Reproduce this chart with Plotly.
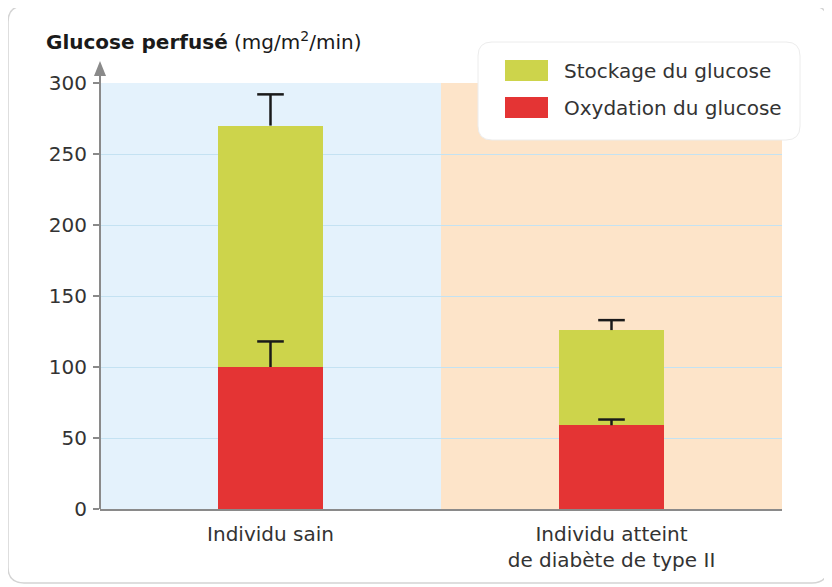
import plotly.graph_objects as go

categories = ["Individu sain", "Individu atteint<br>de diabète de type II"]
oxydation = [100, 59]
oxydation_err = [18, 4]
stockage = [170, 67]
stockage_err = [22, 7]
y_ticks = [0, 50, 100, 150, 200, 250, 300]

GREEN = "#cdd44b"
RED = "#e43434"
FONT = "DejaVu Sans"
TXT = "#333333"
AXC = "#8a8a8a"

OFF = 8  # page offset of the figure in the browser
# plot area in screen pixels
L, R, T, B = 100, 782, 83, 509
W, H = R - L, B - T


def px(x):
    return (x - L) / W


def py(y):
    return (B - y) / H


def rrect(x0, y0, x1, y1, r):
    rx = r / W
    ry = r / H
    X0, X1 = px(x0), px(x1)
    Y0, Y1 = py(y1), py(y0)
    return (f"M {X0+rx},{Y0} L {X1-rx},{Y0} Q {X1},{Y0} {X1},{Y0+ry} "
            f"L {X1},{Y1-ry} Q {X1},{Y1} {X1-rx},{Y1} L {X0+rx},{Y1} "
            f"Q {X0},{Y1} {X0},{Y1-ry} L {X0},{Y0+ry} Q {X0},{Y0} {X0+rx},{Y0} Z")


xs = [0, 1]
tot_ox = oxydation
tot_st = [a + b for a, b in zip(oxydation, stockage)]

fig = go.Figure()
fig.add_trace(go.Bar(x=xs, y=oxydation, marker_color=RED, marker_line_width=0, width=0.31,
                     name="Oxydation du glucose", showlegend=False))
fig.add_trace(go.Bar(x=xs, y=stockage, marker_color=GREEN, marker_line_width=0, width=0.31,
                     name="Stockage du glucose", showlegend=False))

# upper-only error bars (stem + cap) computed from the data
for tops, errs in [(tot_ox, oxydation_err), (tot_st, stockage_err)]:
    sx, sy = [], []
    for x, t, e in zip(xs, tops, errs):
        sx += [x, x, None]
        sy += [t, t + e, None]
    fig.add_trace(go.Scatter(x=sx, y=sy, mode="lines", line=dict(color="#1a1a1a", width=2.5),
                             hoverinfo="skip", showlegend=False))
    fig.add_trace(go.Scatter(x=xs, y=[t + e for t, e in zip(tops, errs)], mode="markers",
                             marker=dict(symbol="line-ew", size=19,
                                         line=dict(color="#1a1a1a", width=2.5)),
                             hoverinfo="skip", showlegend=False))

shapes = [
    dict(type="rect", xref="x", yref="y", x0=-0.5, x1=0.5, y0=0, y1=300,
         fillcolor="#e4f2fc", line_width=0, layer="below"),
    dict(type="rect", xref="x", yref="y", x0=0.5, x1=1.5, y0=0, y1=300,
         fillcolor="#fde4c9", line_width=0, layer="below"),
    dict(type="path", xref="paper", yref="paper", path=rrect(8, 6, 828, 583, 16),
         line=dict(color="#d4d4d4", width=1.5), fillcolor="rgba(0,0,0,0)", layer="below"),
    # y axis line with arrow head
    dict(type="line", xref="paper", yref="paper", x0=0, x1=0, y0=0, y1=py(72),
         line=dict(color=AXC, width=2), layer="above"),
    dict(type="path", xref="paper", yref="paper",
         path=f"M {px(L-6)},{py(76)} L {px(L)},{py(61)} L {px(L+6)},{py(76)} Z",
         fillcolor=AXC, line_width=0, layer="above"),
    # legend box
    dict(type="path", xref="paper", yref="paper", path=rrect(478, 42, 800, 140, 14),
         line=dict(color="#ececec", width=1), fillcolor="white", layer="above"),
    dict(type="rect", xref="paper", yref="paper", x0=px(505), x1=px(548), y0=py(81), y1=py(60),
         fillcolor=GREEN, line_width=0, layer="above"),
    dict(type="rect", xref="paper", yref="paper", x0=px(505), x1=px(548), y0=py(118), y1=py(97),
         fillcolor=RED, line_width=0, layer="above"),
]

annotations = [
    dict(xref="paper", yref="paper", x=px(44), y=py(41), xanchor="left", yanchor="middle",
         text="<b>Glucose perfusé</b> (mg/m<sup>2</sup>/min)", showarrow=False,
         font=dict(family=FONT, size=20, color="#1a1a1a")),
    dict(xref="paper", yref="paper", x=px(562), y=py(71), xanchor="left", yanchor="middle",
         text="Stockage du glucose", showarrow=False,
         font=dict(family=FONT, size=20, color=TXT)),
    dict(xref="paper", yref="paper", x=px(562), y=py(108), xanchor="left", yanchor="middle",
         text="Oxydation du glucose", showarrow=False,
         font=dict(family=FONT, size=20, color=TXT)),
]

fig.update_layout(
    width=832, height=587,
    margin=dict(l=L - OFF, r=832 - R + OFF, t=T - OFF, b=587 - B + OFF),
    paper_bgcolor="white", plot_bgcolor="white",
    barmode="stack",
    shapes=shapes, annotations=annotations,
    font=dict(family=FONT, size=20, color=TXT),
    xaxis=dict(range=[-0.5, 1.5], tickvals=xs, ticktext=categories, showgrid=False,
               showline=True, linecolor=AXC, linewidth=2, ticks="", zeroline=False,
               tickfont=dict(size=20, color=TXT), ticklabelstandoff=6, fixedrange=True),
    yaxis=dict(range=[0, 300], tickvals=y_ticks, showgrid=True, gridcolor="#c4e2f2",
               gridwidth=1.2, ticks="outside", ticklen=6, tickcolor=AXC, tickwidth=1.5,
               showline=False, zeroline=False, tickfont=dict(size=20, color=TXT),
               ticklabelstandoff=2, fixedrange=True),
    showlegend=False,
)

fig.write_html("out.html")
